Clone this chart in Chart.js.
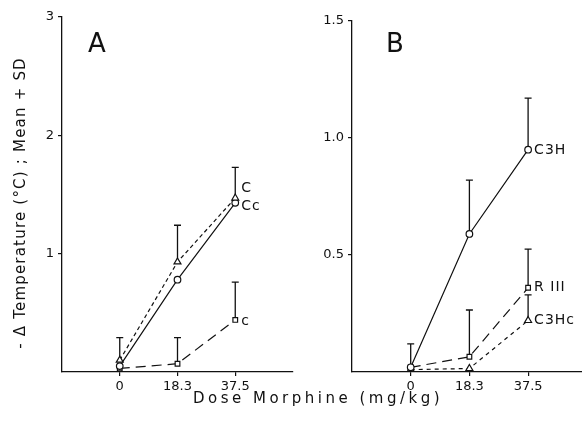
<!DOCTYPE html>
<html>
<head>
<meta charset="utf-8">
<script src="https://cdn.jsdelivr.net/npm/chart.js@4.4.0/dist/chart.umd.min.js"></script>
<style>
  html, body { margin: 0; padding: 0; background: #fff; }
  #wrap { position: relative; width: 582px; height: 432px; overflow: hidden; }
  .panel { position: absolute; top: 0; height: 432px; }
  #panelA { left: 0; width: 300px; }
  #panelB { left: 300px; width: 292px; }
  .letter { position: absolute; top: 28px; font: 26px "DejaVu Sans", sans-serif; color: #111; }
  #xtitle { position: absolute; left: 0; width: 636px; top: 389px; text-align: center;
            font: 15px "DejaVu Sans", sans-serif; letter-spacing: 3.5px; color: #111; }
  #ytitle { position: absolute; left: 20px; top: 203px; width: 320px; margin-left: -160px;
            text-align: center; transform: translateY(-50%) rotate(-90deg);
            font: 15px "DejaVu Sans", sans-serif; letter-spacing: 1.2px; color: #111; white-space: nowrap; }
</style>
</head>
<body>
<div id="wrap">
  <div class="panel" id="panelA"><canvas id="chartA" width="300" height="432"></canvas></div>
  <div class="panel" id="panelB"><canvas id="chartB" width="292" height="432"></canvas></div>
  <div class="letter" style="left:88px">A</div>
  <div class="letter" style="left:386px">B</div>
  <div id="ytitle">- &Delta;  Temperature (&deg;C) ; Mean + SD</div>
  <div id="xtitle">Dose Morphine (mg/kg)</div>
</div>
<script>
// doses on the x axis (equally spaced)
const doses = ['0', '18.3', '37.5'];

// panel A: mean and SD (null = no bar drawn)
const aC = [0.10, 0.93, 1.47];
const aCsd = [0.19, 0.31, 0.26];
const aCc = [0.05, 0.78, 1.43];
const aCcSd = [null, null, null];
const aLow = [0.03, 0.07, 0.44];
const aLowSd = [null, 0.22, 0.32];

// panel B
const bC3H = [0.02, 0.59, 0.95];
const bC3Hsd = [0.10, 0.23, 0.22];
const bRIII = [0.02, 0.065, 0.36];
const bRIIIsd = [null, 0.20, 0.165];
const bC3Hc = [0.01, 0.015, 0.22];
const bC3Hcsd = [null, null, 0.11];

const ticksA = [1, 2, 3];
const ticksB = [0.5, 1.0, 1.5];

const ink = '#111';
const fontFam = '"DejaVu Sans", sans-serif';

const toXY = arr => arr.map((v, i) => ({ x: i, y: v }));

function series(label, values, sd, style, dash, tagDy) {
  return {
    label: label,
    data: toXY(values),
    sd: sd,
    tagDy: tagDy,
    borderColor: ink,
    borderWidth: 1.2,
    borderDash: dash,
    backgroundColor: '#fff',
    pointStyle: style,
    pointRadius: style === 'triangle' ? 4 : 3.3,
    pointBorderColor: ink,
    pointBorderWidth: 1.2,
    pointBackgroundColor: '#fff',
    tension: 0
  };
}

// SD bars, drawn under the markers
const errorBars = {
  id: 'errorBars',
  beforeDatasetsDraw(chart) {
    const ctx = chart.ctx;
    const xs = chart.scales.x, ys = chart.scales.y;
    ctx.save();
    ctx.strokeStyle = ink;
    ctx.lineWidth = 1.3;
    chart.data.datasets.forEach(ds => {
      ds.data.forEach((p, i) => {
        const sd = ds.sd[i];
        if (sd == null) return;
        const x = xs.getPixelForValue(p.x);
        const y0 = ys.getPixelForValue(p.y);
        const y1 = ys.getPixelForValue(p.y + sd);
        ctx.beginPath();
        ctx.moveTo(x, y0);
        ctx.lineTo(x, y1);
        ctx.moveTo(x - 3.5, y1);
        ctx.lineTo(x + 3.5, y1);
        ctx.stroke();
      });
    });
    ctx.restore();
  },
  afterDatasetsDraw(chart) {
    // series names next to the last point
    const ctx = chart.ctx;
    const xs = chart.scales.x, ys = chart.scales.y;
    ctx.save();
    ctx.fillStyle = ink;
    ctx.font = '14px ' + fontFam;
    ctx.letterSpacing = '1px';
    ctx.textBaseline = 'middle';
    chart.data.datasets.forEach(ds => {
      const p = ds.data[ds.data.length - 1];
      ctx.fillText(ds.label, xs.getPixelForValue(p.x) + 6, ys.getPixelForValue(p.y) + ds.tagDy);
    });
    ctx.restore();
  }
};

function makePanel(id, datasets, yMax, yTicks, fmt, yWidth, pad) {
  return new Chart(document.getElementById(id), {
    type: 'line',
    data: { datasets: datasets },
    plugins: [errorBars],
    options: {
      responsive: false,
      animation: false,
      layout: { padding: pad },
      plugins: { legend: { display: false }, tooltip: { enabled: false } },
      scales: {
        x: {
          type: 'linear',
          min: -1,
          max: 3,
          afterBuildTicks: s => { s.ticks = [0, 1, 2].map(v => ({ value: v })); },
          afterFit: s => { s.height = 60; },
          ticks: {
            callback: v => doses[v],
            color: ink,
            font: { family: fontFam, size: 13 },
            maxRotation: 0,
            autoSkip: false,
            padding: 3
          },
          grid: { drawOnChartArea: false, drawTicks: true, tickLength: 4, color: ink, lineWidth: 1.2 },
          border: { color: ink, width: 1.3 }
        },
        y: {
          min: 0,
          max: yMax,
          afterBuildTicks: s => { s.ticks = yTicks.map(v => ({ value: v })); },
          afterFit: s => { s.width = yWidth; },
          ticks: {
            callback: fmt,
            color: ink,
            font: { family: fontFam, size: 13 },
            padding: 4
          },
          grid: { drawOnChartArea: false, drawTicks: true, tickLength: 4, color: ink, lineWidth: 1.2 },
          border: { color: ink, width: 1.3 }
        }
      }
    }
  });
}

makePanel('chartA', [
  series('C', aC, aCsd, 'triangle', [4, 3], -10),
  series('Cc', aCc, aCcSd, 'circle', [], 4),
  series('c', aLow, aLowSd, 'rect', [10, 6], 1)
], 3, ticksA, v => String(v), 62, { top: 17, right: 7, left: 0, bottom: 0 });

makePanel('chartB', [
  series('C3H', bC3H, bC3Hsd, 'circle', [], 1),
  series('R III', bRIII, bRIIIsd, 'rect', [10, 6], 0),
  series('C3Hc', bC3Hc, bC3Hcsd, 'triangle', [4, 4], 0)
], 1.5, ticksB, v => v.toFixed(1), 52, { top: 21, right: 0, left: 0, bottom: 0 });
</script>
</body>
</html>
